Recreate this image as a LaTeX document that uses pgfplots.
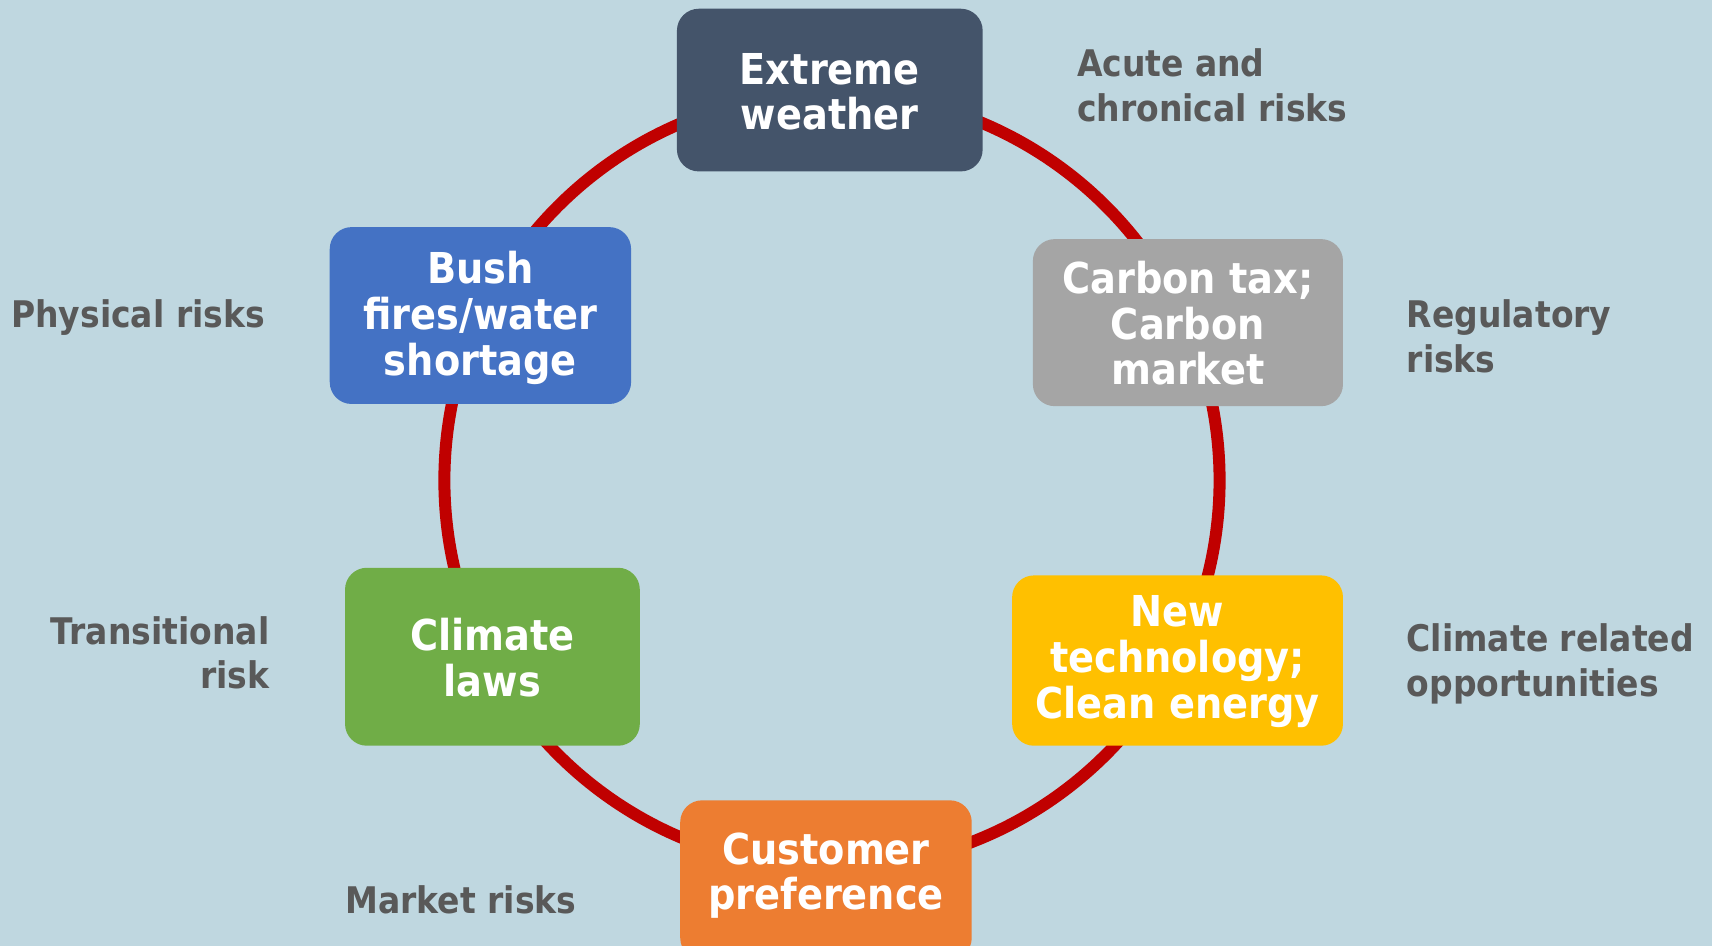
\documentclass[border=0pt]{standalone}
\usepackage{pgfplots}
\pgfplotsset{compat=1.18}
\usepackage{fontspec}
\setmainfont{DejaVu Sans Condensed}[BoldFont={DejaVu Sans Condensed Bold}]
\definecolor{bgc}{HTML}{BFD7E0}
\definecolor{navy}{HTML}{44546A}
\definecolor{blu}{HTML}{4472C4}
\definecolor{gry}{HTML}{A5A5A5}
\definecolor{gold}{HTML}{FFC000}
\definecolor{orng}{HTML}{ED7D31}
\definecolor{grn}{HTML}{70AD47}
\definecolor{arc}{HTML}{C00000}
\definecolor{lbl}{HTML}{595959}
\begin{document}
\begin{tikzpicture}[
    box/.style={rounded corners=10pt, inner sep=0pt, align=center, text=white,
        font=\bfseries\fontsize{19.5}{21}\selectfont},
    lab/.style={inner sep=0pt, text=lbl, font=\bfseries\fontsize{16.8}{20.5}\selectfont},
]
\begin{axis}[
    x=0.5pt, y=0.5pt,
    xmin=0, xmax=1568, ymin=0, ymax=866,
    y dir=reverse,
    hide axis,
    clip=true,
]
\fill[bgc] (axis cs:0,0) rectangle (axis cs:1568,866);
\draw[arc, line width=5.5pt] (axis cs:762,440) circle[radius=355];
% boxes
\node[box, fill=navy, minimum width=140pt, minimum height=74.5pt] at (axis cs:760,82.5) {};
\node[box] at (axis cs:760,84) {Extreme\\weather};
\node[box, fill=gry, minimum width=142pt, minimum height=76.5pt] at (axis cs:1088,295.5) {};
\node[box] at (axis cs:1088,296) {Carbon tax;\\Carbon\\market};
\node[box, fill=gold, minimum width=151.5pt, minimum height=78pt] at (axis cs:1078.5,605) {};
\node[box] at (axis cs:1078.5,606) {New\\technology;\\Clean energy};
\node[box, fill=orng, minimum width=133.5pt, minimum height=73pt] at (axis cs:756.5,806) {};
\node[box] at (axis cs:756.5,802) {Customer\\preference};
\node[box, fill=grn, minimum width=135pt, minimum height=81.5pt] at (axis cs:451,601.5) {};
\node[box] at (axis cs:451,602) {Climate\\laws};
\node[box, fill=blu, minimum width=138pt, minimum height=81pt] at (axis cs:440,289) {};
\node[box] at (axis cs:440,291) {Bush\\fires/water\\shortage};
% labels
\node[lab, anchor=west, align=left] at (axis cs:986,78) {Acute and\\chronical risks};
\node[lab, anchor=east, align=right] at (axis cs:243,291) {Physical risks};
\node[lab, anchor=west, align=left] at (axis cs:1288,308) {Regulatory\\risks};
\node[lab, anchor=east, align=right] at (axis cs:247,598) {Transitional\\risk};
\node[lab, anchor=west, align=left] at (axis cs:1288,608) {Climate related\\opportunities};
\node[lab, anchor=west] at (axis cs:316,824) {Market risks};
\end{axis}
\end{tikzpicture}
\end{document}
